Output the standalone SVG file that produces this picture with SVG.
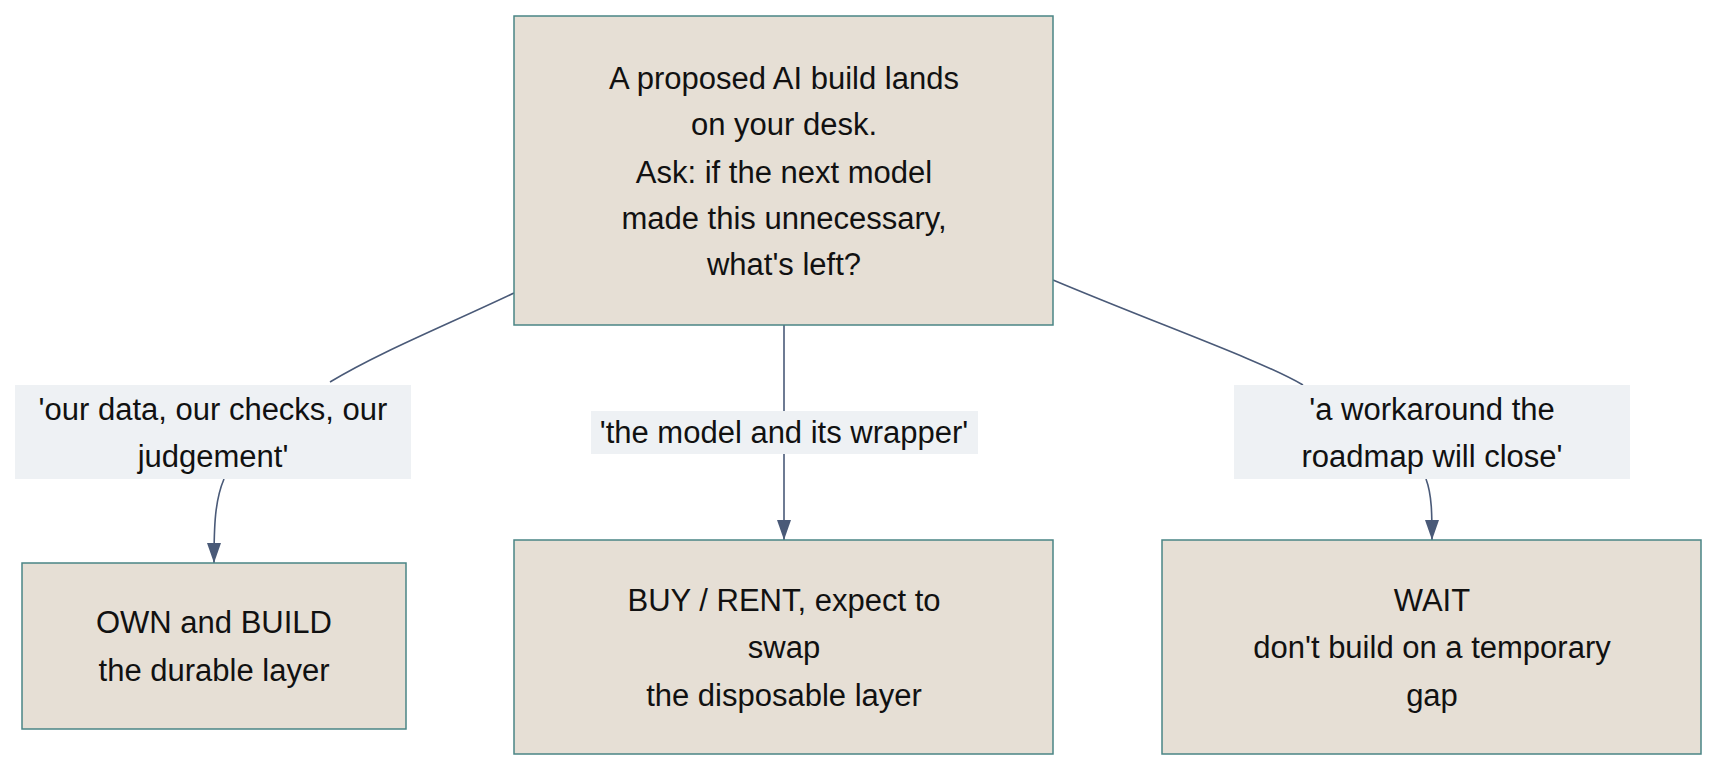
<svg xmlns="http://www.w3.org/2000/svg" width="1734" height="776" viewBox="0 0 1734 776">
<style>
.n{fill:#e6dfd5;stroke:#4a8585;stroke-width:1.5}
.l{fill:#eef1f4}
.e{fill:none;stroke:#4a5a78;stroke-width:1.6}
text{font-family:"Liberation Sans",Arial,sans-serif;font-size:31px;fill:#111;text-anchor:middle}
</style>
<defs><marker id="a" viewBox="0 0 20 14" refX="20" refY="7" markerWidth="20" markerHeight="14" markerUnits="userSpaceOnUse" orient="auto"><path d="M0,0L20,7L0,14z" fill="#4a5a78"/></marker></defs>
<rect width="1734" height="776" fill="#fff"/>
<g id="edges">
<path class="e" d="M514,293 C440,328 380,352 330,382"/>
<path class="e" d="M224,479 C215,500 214,525 214,563" marker-end="url(#a)"/>
<path class="e" d="M784,325 L784,411"/>
<path class="e" d="M784,454 L784,540" marker-end="url(#a)"/>
<path class="e" d="M1053,280 C1160,325 1260,360 1303,385"/>
<path class="e" d="M1426,479 C1432,495 1432,515 1432,540" marker-end="url(#a)"/>
</g>
<g id="labels">
<rect class="l" x="15" y="385" width="396" height="94"/>
<text x="213" y="420">'our data, our checks, our</text>
<text x="213" y="467">judgement'</text>
<rect class="l" x="591" y="411" width="387" height="43"/>
<text x="784" y="443">'the model and its wrapper'</text>
<rect class="l" x="1234" y="385" width="396" height="94"/>
<text x="1432" y="420">'a workaround the</text>
<text x="1432" y="467">roadmap will close'</text>
</g>
<g id="top">
<rect class="n" x="514" y="16" width="539" height="309"/>
<text x="784" y="89">A proposed AI build lands</text>
<text x="784" y="135">on your desk.</text>
<text x="784" y="183">Ask: if the next model</text>
<text x="784" y="229">made this unnecessary,</text>
<text x="784" y="275">what's left?</text>
</g>
<g id="own">
<rect class="n" x="22" y="563" width="384" height="166"/>
<text x="214" y="633">OWN and BUILD</text>
<text x="214" y="681">the durable layer</text>
</g>
<g id="buy">
<rect class="n" x="514" y="540" width="539" height="214"/>
<text x="784" y="611">BUY / RENT, expect to</text>
<text x="784" y="658">swap</text>
<text x="784" y="706">the disposable layer</text>
</g>
<g id="wait">
<rect class="n" x="1162" y="540" width="539" height="214"/>
<text x="1432" y="611">WAIT</text>
<text x="1432" y="658">don't build on a temporary</text>
<text x="1432" y="706">gap</text>
</g>
</svg>
